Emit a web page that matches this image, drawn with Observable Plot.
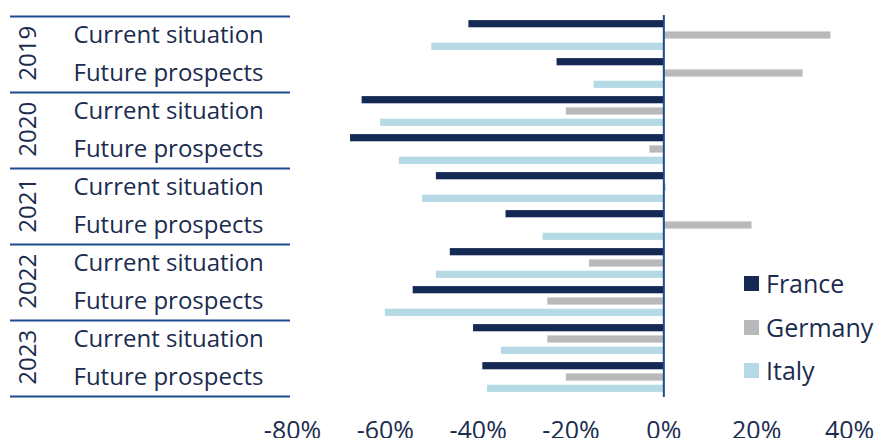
<!DOCTYPE html>
<html><head><meta charset="utf-8">
<script src="https://cdn.jsdelivr.net/npm/d3@7"></script>
<script src="https://cdn.jsdelivr.net/npm/@observablehq/plot@0.6"></script>
<style>
body{margin:0;background:#fff;}
#wrap{position:relative;width:876px;height:438px;overflow:hidden;font-family:"Open Sans",sans-serif;background:#fff;}
#wrap svg{display:block;}
.lg{position:absolute;left:744px;display:flex;align-items:center;font-size:25px;color:#1b2c4f;line-height:1;}
.lg span.sw{display:inline-block;width:15px;height:15px;margin-right:7px;}
</style></head><body><div id="wrap"></div>
<script>
const years = ["2019","2020","2021","2022","2023"];
const situations = ["Current situation","Future prospects"];
const countries = ["France","Germany","Italy"];
const colors = ["#142a55","#b9b9b9","#b5dae6"];
const france  = [-42, -23, -65, -67.5, -49, -34, -46, -54, -41, -39];
const germany = [ 36,  30, -21,  -3,   0.5, 19, -16, -25, -25, -21];
const italy   = [-50, -15, -61, -57,  -52, -26, -49, -60, -35, -38];
const xTicks = [-80, -60, -40, -20, 0, 20, 40];

const series = [france, germany, italy];
const rows = years.flatMap(y => situations.map(s => `${y}|${s}`));
const data = rows.flatMap((r, i) => countries.map((c, j) => ({row: r, country: c, value: series[j][i]})));

const W = 876, H = 438, mL = 292, mR = 27, mT = 15, mB = 41;
const rowH = (H - mT - mB) / rows.length;
const barH = 7.4, step = 11.3;
const ink = "#1b2c4f", lineCol = "#1f4b8f";
const fs = 24, fsTick = 25;

const chart = Plot.plot({
  width: W, height: H,
  marginLeft: mL, marginRight: mR, marginTop: mT, marginBottom: mB,
  style: {fontFamily: "'Open Sans', sans-serif", fontSize: fs + "px", color: ink, background: "white", overflow: "visible"},
  x: {domain: [-80, 40], ticks: xTicks, tickFormat: d => d + "%", label: null},
  y: {domain: rows, padding: 0, label: null},
  color: {domain: countries, range: colors},
  marks: [
    ...countries.map((c, j) => Plot.barX(data.filter(d => d.country === c), {
      x: "value", y: "row", fill: "country",
      insetTop: (rowH - barH) / 2, insetBottom: (rowH - barH) / 2, dy: (j - 1) * step
    })),
    Plot.ruleX([0], {stroke: lineCol, strokeWidth: 2}),
    Plot.ruleY(years, {y: y => `${y}|${situations[0]}`, dy: -rowH / 2, stroke: lineCol, strokeWidth: 2,
      insetLeft: -(mL - 10), insetRight: (W - mL - mR) + 2}),
    Plot.ruleY([years[years.length - 1]], {y: y => `${y}|${situations[1]}`, dy: rowH / 2, stroke: lineCol, strokeWidth: 2,
      insetLeft: -(mL - 10), insetRight: (W - mL - mR) + 2}),
    Plot.axisX({ticks: xTicks, tickFormat: d => d + "%", tickSize: 0, tickPadding: 24, fontSize: fsTick, fill: ink, label: null}),
    Plot.axisY({tickSize: 0, tickPadding: 219, textAnchor: "start", tickFormat: r => r.split("|")[1], fontSize: fs, fill: ink, label: null}),
    Plot.text(years, {y: y => `${y}|${situations[0]}`, text: d => d, rotate: -90, frameAnchor: "left",
      dx: -(mL - 28), dy: rowH + 7, fontSize: fs, fill: ink})
  ]
});
const wrap = document.getElementById("wrap");
wrap.appendChild(chart);
const color = chart.scale("color");
countries.forEach((c, i) => {
  const d = document.createElement("div");
  d.className = "lg";
  d.style.top = (271 + i * 43.5) + "px";
  d.innerHTML = `<span class="sw" style="background:${color.range[i]}"></span><span>${c}</span>`;
  wrap.appendChild(d);
});
</script></body></html>
